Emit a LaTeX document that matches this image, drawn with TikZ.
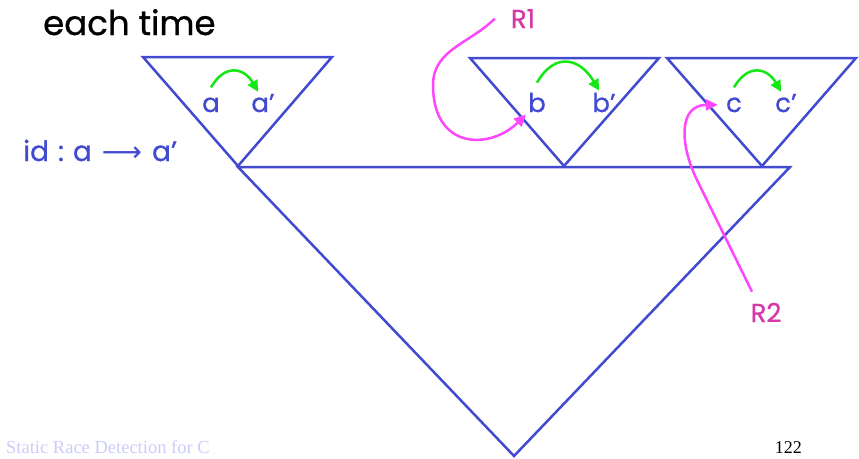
\documentclass[tikz,border=0pt]{standalone}
\usepackage{fontspec}
\setmainfont{Poppins}[FakeBold=0.8]
\newfontfamily\arrowfont{DejaVu Sans}
\newfontfamily\footfont{Liberation Serif}
\usetikzlibrary{arrows.meta}
\definecolor{treeblue}{RGB}{66,74,208}
\definecolor{racepink}{RGB}{255,70,255}
\definecolor{labelpink}{RGB}{214,56,168}
\definecolor{flowgreen}{RGB}{20,232,20}
\definecolor{footblue}{RGB}{204,204,250}

\begin{document}
\begin{tikzpicture}[x=1pt,y=-1pt,
  tree/.style={treeblue,line width=2.5pt},
  var/.style={treeblue,anchor=base,inner sep=2pt,font=\fontsize{26}{30}\selectfont},
  flow/.style={flowgreen,line width=2.5pt,-{Triangle[length=11pt,width=11pt]},looseness=1.5},
  race/.style={racepink,line width=2.5pt,-{Triangle[length=12pt,width=11pt]}},
  racelbl/.style={labelpink,anchor=base,inner sep=2pt,font=\fontsize{26}{30}\selectfont}]
  \useasboundingbox (0,0) rectangle (859,458);
  % heading
  \node[anchor=base west,inner sep=0pt,font=\fontsize{34}{40}\selectfont] (title) at (43,35) {each time};
  % whole tree and the three subtrees
  \draw[tree] (238,167) -- (790,167) -- (514,456) -- cycle;
  \draw[tree] (143,57) -- (332,57) -- (238,166) -- cycle;
  \draw[tree] (470,58) -- (659,58) -- (564,166) -- cycle;
  \draw[tree] (667,58) -- (856,58) -- (762,166) -- cycle;
  % variables
  \node[var] (a) at (211,112) {a};
  \node[var] (ap) at (263,112) {a'};
  \node[var] (b) at (537,112) {b};
  \node[var] (bp) at (604,112) {b'};
  \node[var] (c) at (734,112) {c};
  \node[var] (cp) at (786,112) {c'};
  \draw[flow] ([yshift=8pt]a.north) to[out=60,in=120] ([xshift=-5pt]ap.north);
  \draw[flow] ([yshift=8pt]b.north) to[out=60,in=120] ([xshift=-5pt]bp.north);
  \draw[flow] ([yshift=8pt]c.north) to[out=60,in=120] ([xshift=-5pt]cp.north);
  \node[treeblue,anchor=base west,inner sep=0pt,font=\fontsize{28}{32}\selectfont] (idmap) at (23,161) {id\hspace{9pt}:\hspace{9pt}a\hspace{10pt}{\arrowfont ⟶}\hspace{10pt}a'};
  % races
  \node[racelbl] (r1) at (523,28) {R1};
  \node[racelbl] (r2) at (766,322) {R2};
  \draw[race] ([xshift=-14pt]r1.west) to[out=-135,in=90] (433,85) .. controls (433,150) and (490,150) .. (b.south west);
  \draw[race] ([xshift=-14pt,yshift=9pt]r2.north) -- (697,180) to[out=116,in=180,looseness=1.3] ([xshift=-6pt]c.west);
  % footer
  \node[footblue,anchor=base west,inner sep=0pt,font=\footfont\fontsize{18.5}{20}\selectfont] (foot) at (6,453) {Static Race Detection for C};
  \node[anchor=base east,inner sep=0pt,font=\footfont\fontsize{18}{20}\selectfont] (page) at (802,453) {122};
\end{tikzpicture}
\end{document}
